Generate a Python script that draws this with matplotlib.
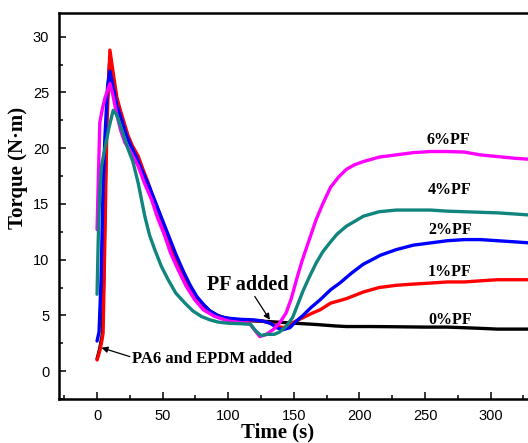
import matplotlib
matplotlib.use("Agg")
import matplotlib.pyplot as plt
from matplotlib.ticker import MultipleLocator

# ---- data ----
t_0 = [0, 2, 4, 5, 6, 7.5, 9.5, 12, 15, 18, 22, 25, 30, 35, 40, 45, 50, 55, 60, 65, 70, 76, 81, 86, 92,
       97, 103, 110, 120, 130, 137, 150, 165, 182, 190, 208, 228, 250, 267, 290, 305, 318, 330]
y_0 = [1.1, 2.0, 3.3, 8, 15, 24, 27.6, 26.5, 24.3, 23.1, 21.4, 20.6, 19.2, 17.7, 16.4, 14.9, 13.3, 11.8,
       10.3, 8.9, 7.7, 6.6, 5.9, 5.4, 5.0, 4.8, 4.65, 4.55, 4.5, 4.45, 4.4, 4.3, 4.2, 4.05, 4.0, 4.0, 3.98,
       3.95, 3.95, 3.85, 3.77, 3.77, 3.77]

t_1 = [0, 2, 3.5, 4.6, 6, 7.5, 9.8, 12, 15, 18, 23.7, 27, 31.3, 35, 39, 44, 49.2, 54, 59.3, 64, 69.4, 76,
       82.2, 90, 97.4, 103, 109, 119, 126, 132, 138, 142, 146, 150, 157, 164, 170, 178, 190, 203, 215,
       228, 240, 254, 267, 280, 292, 305, 318, 330]
y_1 = [1.0, 1.8, 2.6, 3.4, 12, 22, 28.8, 27.0, 24.6, 23.3, 21.1, 20.2, 19.3, 18.1, 16.9, 15.0, 13.3, 11.8,
       10.3, 8.9, 7.6, 6.4, 5.5, 5.0, 4.7, 4.65, 4.6, 4.55, 4.5, 4.3, 4.0, 3.9, 4.1, 4.4, 4.8, 5.2, 5.5,
       6.1, 6.5, 7.1, 7.5, 7.7, 7.8, 7.9, 8.0, 8.0, 8.1, 8.2, 8.2, 8.2]

t_2 = [0, 1.5, 3, 4.5, 6, 8, 9.8, 12, 15, 18, 22, 25, 30, 35, 40, 45, 50, 55, 60, 66, 71, 76, 81, 86, 93,
       100, 109, 119, 126, 132, 137, 141, 147, 152, 157, 163, 170, 178, 185, 194, 203, 208, 216, 228, 241,
       254, 267, 280, 292, 305, 318, 330]
y_2 = [2.7, 3.5, 8, 16, 21, 25.5, 26.9, 25.6, 23.9, 22.8, 21.3, 20.4, 19.2, 17.8, 16.5, 15.0, 13.5, 12.0,
       10.5, 8.9, 7.7, 6.7, 6.0, 5.4, 4.9, 4.75, 4.65, 4.6, 4.5, 4.3, 3.9, 3.7, 3.9, 4.5, 5.0, 5.7, 6.4,
       7.3, 7.9, 8.8, 9.6, 9.9, 10.4, 10.9, 11.3, 11.5, 11.7, 11.8, 11.8, 11.7, 11.6, 11.5]

t_4 = [0, 0.9, 2, 3.4, 6, 9, 12.3, 15, 19.6, 23.7, 27.3, 31.3, 36.4, 40, 44, 49, 54.2, 60, 67, 73, 79.6,
       86, 92.3, 100, 110, 117, 121, 125, 130, 135, 139, 144, 149, 153, 157, 162, 167, 172, 178, 183, 190,
       203, 215, 228, 241, 254, 267, 280, 292, 305, 318, 330]
y_4 = [6.9, 11.8, 16.0, 18.4, 20.0, 21.8, 23.4, 23.0, 21.4, 19.9, 18.8, 16.9, 13.9, 12.2, 10.9, 9.4, 8.2,
       7.0, 6.1, 5.4, 4.9, 4.6, 4.4, 4.3, 4.25, 4.2, 3.6, 3.2, 3.3, 3.3, 3.5, 4.0, 4.8, 6.0, 7.2, 8.5,
       9.7, 10.7, 11.6, 12.3, 13.0, 13.9, 14.3, 14.45, 14.45, 14.45, 14.35, 14.3, 14.25, 14.2, 14.1, 14.0]

t_6 = [0, 0.8, 2.1, 4, 6, 9.8, 12, 15, 18, 21.2, 25, 31.3, 36, 41.5, 46, 51.7, 56, 61.8, 68, 74.5, 81,
       89.8, 100, 109, 116, 120, 124, 129, 134, 139, 144, 148, 152, 156, 160, 167, 172, 178, 184, 190,
       196, 203, 215, 228, 241, 254, 267, 280, 292, 305, 318, 330]
y_6 = [12.7, 16.4, 22.3, 23.5, 24.5, 25.8, 24.8, 23.0, 21.6, 20.5, 19.8, 18.4, 16.9, 15.4, 13.8, 12.1,
       10.6, 9.1, 7.6, 6.4, 5.5, 4.9, 4.5, 4.35, 4.3, 3.7, 3.1, 3.3, 3.7, 4.3, 5.2, 6.5, 8.2, 9.8, 11.2,
       13.6, 15.0, 16.5, 17.4, 18.1, 18.5, 18.8, 19.2, 19.4, 19.6, 19.7, 19.7, 19.65, 19.4, 19.25, 19.1, 19.0]

series_labels = ["0%PF", "1%PF", "2%PF", "4%PF", "6%PF"]
label_pos = [(269, 4.2), (269, 8.5), (269, 12.3), (269, 15.9), (268, 20.35)]
colors = ["#000000", "#FF0000", "#0000FF", "#10857D", "#FF00FF"]

xticks = [0, 50, 100, 150, 200, 250, 300]
yticks = [0, 5, 10, 15, 20, 25, 30]

# ---- figure ----
W, H = 528, 443
fig = plt.figure(figsize=(W / 100, H / 100), dpi=100)
ax = fig.add_axes([59 / W, 44 / H, 498.6 / W, 385.7 / H])

serif = ["Liberation Serif", "DejaVu Serif"]
sans = ["Liberation Sans", "DejaVu Sans"]

series = [(t_0, y_0), (t_1, y_1), (t_2, y_2), (t_6, y_6), (t_4, y_4)]
order_colors = [colors[0], colors[1], colors[2], colors[4], colors[3]]
for (tx, ty), c in zip(series, order_colors):
    ax.plot(tx, ty, color=c, lw=2.4, solid_joinstyle="round", solid_capstyle="round")

for lab, (lx, ly) in zip(series_labels, label_pos):
    ax.text(lx, ly, lab, ha="center", va="baseline", family=serif, weight="bold", fontsize=11.5)

ax.set_xlim(-29, 351)
ax.set_ylim(-2.5, 32.1)
ax.set_xticks(xticks)
ax.set_yticks(yticks)
ax.xaxis.set_minor_locator(MultipleLocator(25))
ax.yaxis.set_minor_locator(MultipleLocator(2.5))
ax.tick_params(which="both", direction="in", top=False, right=False, width=1.1)
ax.tick_params(which="major", length=5, pad=7)
ax.tick_params(which="minor", length=3)
for lbl in ax.get_xticklabels() + ax.get_yticklabels():
    lbl.set_family(sans)
    lbl.set_fontsize(10.5)
for s in ax.spines.values():
    s.set_linewidth(1.8)

# annotations
ax.annotate("", xy=(131.7, 4.6), xytext=(120.2, 6.7),
            arrowprops=dict(arrowstyle="-|>", color="black", lw=0.9, mutation_scale=9,
                            shrinkA=0, shrinkB=0))
ax.text(115, 7.3, "PF added", ha="center", va="baseline", family=serif, weight="bold", fontsize=14.5)
ax.annotate("", xy=(3.4, 2.1), xytext=(25, 1.3),
            arrowprops=dict(arrowstyle="-|>", color="black", lw=0.9, mutation_scale=9,
                            shrinkA=0, shrinkB=0))
ax.text(26.5, 1.1, "PA6 and EPDM added", ha="left", va="center", family=serif, weight="bold",
        fontsize=12)

# axis labels
fig.text(18 / W, 1 - 168 / H, "Torque (N·m)", rotation=90, ha="center", va="center",
         family=serif, weight="bold", fontsize=15)
fig.text(278 / W, 1 - 437 / H, "Time (s)", ha="center", va="baseline",
         family=serif, weight="bold", fontsize=15)

fig.savefig("out.png", dpi=100)
